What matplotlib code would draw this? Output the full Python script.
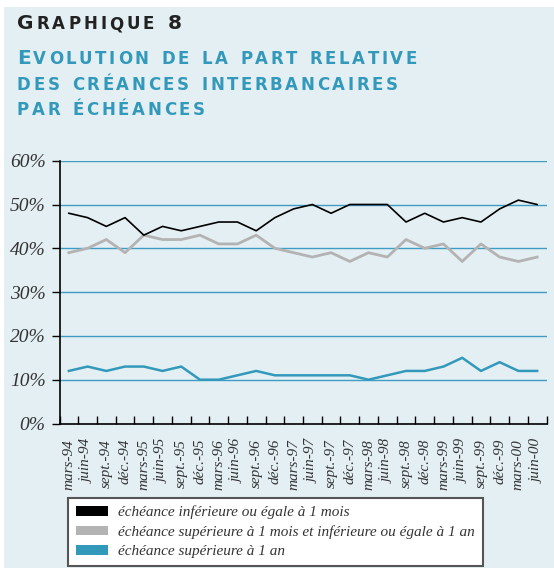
import matplotlib
matplotlib.use("Agg")
import matplotlib.pyplot as plt
from matplotlib.patches import Rectangle, Patch
import numpy as np

W, H = 554, 568

# --- data -------------------------------------------------------------
dates = ["mars-94", "juin-94", "sept.-94", "déc.-94",
         "mars-95", "juin-95", "sept.-95", "déc.-95",
         "mars-96", "juin-96", "sept.-96", "déc.-96",
         "mars-97", "juin-97", "sept.-97", "déc.-97",
         "mars-98", "juin-98", "sept.-98", "déc.-98",
         "mars-99", "juin-99", "sept.-99", "déc.-99",
         "mars-00", "juin-00"]

court = [48, 47, 45, 47, 43, 45, 44, 45, 46, 46, 44, 47, 49,
         50, 48, 50, 50, 50, 46, 48, 46, 47, 46, 49, 51, 50]
moyen = [39, 40, 42, 39, 43, 42, 42, 43, 41, 41, 43, 40, 39,
         38, 39, 37, 39, 38, 42, 40, 41, 37, 41, 38, 37, 38]
long_ = [12, 13, 12, 13, 13, 12, 13, 10, 10, 11, 12, 11, 11,
         11, 11, 11, 10, 11, 12, 12, 13, 15, 12, 14, 12, 12]

series_labels = ["échéance inférieure ou égale à 1 mois",
                 "échéance supérieure à 1 mois et inférieure ou égale à 1 an",
                 "échéance supérieure à 1 an"]
yticks = [0, 10, 20, 30, 40, 50, 60]

title_top = "Graphique 8"
title_lines = ["Evolution de la part relative",
               "des créances interbancaires",
               "par échéances"]

BG = "#e4eff4"
BLUE = "#3399bb"
GRID = "#3f9dc2"
GREY = "#b3b3b3"


def fx(x):
    return x / W


def fy(y):
    return 1 - y / H


fig = plt.figure(figsize=(W / 100, H / 100), dpi=100)
fig.patch.set_facecolor("white")
fig.patches.append(Rectangle((fx(4), 0), 1 - fx(4), fy(7), transform=fig.transFigure,
                             facecolor=BG, edgecolor="none", zorder=-10))

renderer = fig.canvas.get_renderer()


def small_caps(x, y, s, big, small, color, track, space):
    # fake small caps: capitals/digits at the big size, the rest as smaller capitals
    for ch in s:
        if ch == " ":
            x += space
            continue
        size = big if (ch.isupper() or ch.isdigit()) else small
        t = fig.text(fx(x), fy(y), ch.upper(), fontsize=size, color=color,
                     family="DejaVu Sans", weight="bold", ha="left", va="baseline")
        x += t.get_window_extent(renderer).width + track


small_caps(17, 29, title_top, 14.5, 12, "#222222", 3.0, 10)
for i, line in enumerate(title_lines):
    small_caps(17, 64 + i * 25.5, line, 14.5, 12, BLUE, 2.6, 10)

# --- chart ------------------------------------------------------------
left, right, top, bottom = 59.5, 546.5, 160.7, 423.5
ax = fig.add_axes([fx(left), fy(bottom), fx(right) - fx(left), fy(top) - fy(bottom)])
ax.set_facecolor("none")

x = np.arange(len(dates))
ax.plot(x, court, color="black", lw=1.2, zorder=5)
ax.plot(x, moyen, color=GREY, lw=2.0, zorder=4)
ax.plot(x, long_, color=BLUE, lw=1.8, zorder=4)

ax.set_xlim(-0.5, len(dates) - 0.5)
ax.set_ylim(0, 60)

for v in yticks[1:]:
    ax.axhline(v, color=GRID, lw=1.0, zorder=1)

for s in ["top", "right"]:
    ax.spines[s].set_visible(False)
for s in ["left", "bottom"]:
    ax.spines[s].set_color("black")
    ax.spines[s].set_linewidth(1.2)

ax.set_yticks(yticks)
ax.set_yticklabels([f"{v}%" for v in yticks], fontsize=14, family="Liberation Serif",
                   style="italic", color="#333333")
ax.tick_params(axis="y", length=6, width=1.0, pad=4, color="black")

ax.set_xticks(np.arange(-0.5, len(dates)), minor=False)
ax.set_xticklabels([])
ax.tick_params(axis="x", which="major", direction="in", length=6, width=1.0, color="black")
ax.set_xticks(x, minor=True)
ax.set_xticklabels(dates, minor=True, rotation=90, fontsize=11,
                   family="Liberation Serif", style="italic", color="#333333")
ax.tick_params(axis="x", which="minor", length=0, pad=11)

handles = [Patch(facecolor="black", edgecolor="none"),
           Patch(facecolor=GREY, edgecolor="none"),
           Patch(facecolor=BLUE, edgecolor="none")]
leg = fig.legend(handles, series_labels, loc="upper left",
                 bbox_to_anchor=(fx(68), fy(498)), borderaxespad=0,
                 prop={"family": "Liberation Serif", "style": "italic", "size": 11},
                 frameon=True, fancybox=False, framealpha=1,
                 handlelength=2.1, handleheight=0.6, handletextpad=0.7,
                 borderpad=0.5, labelspacing=0.38)
leg.get_frame().set_edgecolor("#555555")
leg.get_frame().set_linewidth(1.5)
for t in leg.get_texts():
    t.set_color("#333333")

fig.savefig("out.png", dpi=100)
